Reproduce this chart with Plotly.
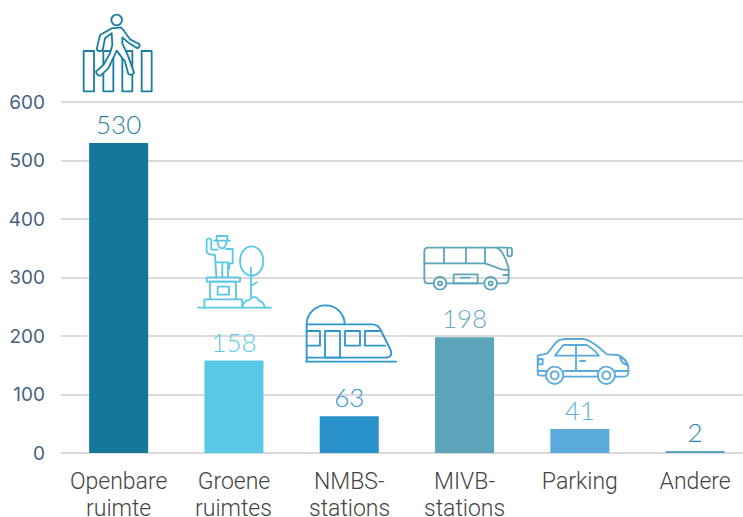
import base64
import plotly.graph_objects as go

line1 = ["Openbare", "Groene", "NMBS-", "MIVB-", "Parking", "Andere"]
line2 = ["ruimte", "ruimtes", "stations", "stations", "", ""]
values = [530, 158, 63, 198, 41, 2]
bar_colors = ["#15789b", "#58c8e6", "#2a92cb", "#5ba4ba", "#5aabdc", "#5ca5c0"]
label_colors = ["#2a82a2", "#62c8e6", "#3394cc", "#66aabf", "#62afdd", "#2a87a8"]
y_ticks = [0, 100, 200, 300, 400, 500, 600]

W, H = 743, 517
L, B = 61, 64
PX_PER_UNIT = 351 / 600
CAT_STEP = 115.3

def svg_uri(vb, color, sw, body):
    x0, y0, vw, vh = vb
    svg = (f'<svg xmlns="http://www.w3.org/2000/svg" width="{vw}" height="{vh}" viewBox="{x0} {y0} {vw} {vh}">'
           f'<g fill="none" stroke="{color}" stroke-width="{sw}" stroke-linejoin="round" stroke-linecap="round">{body}</g></svg>')
    return "data:image/svg+xml;base64," + base64.b64encode(svg.encode()).decode()

pedestrian = """
<rect x="71" y="153" width="31" height="121"/><rect x="130" y="153" width="30" height="121"/>
<rect x="187" y="153" width="30" height="121"/><rect x="245" y="153" width="30" height="121"/>
<circle cx="170" cy="60" r="16" fill="#fff"/>
<path fill="#fff" d="M155,85 L120,105 L110,148 Q118,158 128,150 L135,115 L155,100 L157,135 L150,160 L130,195 L108,215 Q112,230 122,226 L145,205 L170,152 L195,185 L205,222 Q215,228 222,218 L205,170 L187,130 L187,112 L205,128 L232,145 Q242,140 238,132 L210,118 L190,90 L183,82 Z"/>
"""
statue = """
<ellipse cx="185" cy="108" rx="35" ry="44"/>
<path d="M183,128 L183,215 M183,183 L200,172"/>
<path d="M24,248 L243,248"/>
<path d="M43,248 L43,223 L157,223 L157,248 M60,223 L60,170 L138,170 L138,223"/>
<rect x="50" y="157" width="100" height="13"/><rect x="83" y="185" width="34" height="24"/>
<path d="M72,47 L120,47 M80,47 L80,33 L112,33 L112,47 M82,47 Q84,70 96,70 Q108,70 110,47"/>
<path d="M50,45 Q57,35 64,45 L64,74 L84,74 M108,72 L128,72 L128,115 L114,115 L114,157 M50,45 L50,80 Q52,88 75,90 L79,157 M79,112 L114,112 M97,112 L97,157 M118,115 L118,130"/>
<path d="M157,243 Q165,225 178,225 Q195,205 208,228 Q220,230 225,248"/>
"""
train = """
<path d="M350,298 A57,57 0 0 1 464,298"/>
<path d="M350,410 L350,298 L545,298 Q565,298 572,315 L602,375 Q610,398 585,398 L350,398"/>
<path d="M350,410 L618,410"/>
<path d="M350,318 L390,318 L390,362 L350,362"/>
<rect x="405" y="318" width="45" height="80"/><rect x="465" y="318" width="45" height="44"/>
<path d="M586,362 L525,362 L525,318 L568,318"/>
"""
bus = """
<path d="M70,145 L52,145 Q43,145 43,132 L43,50 Q43,38 55,38 L260,38 Q280,45 296,100 L296,132 Q296,145 285,145 L262,145 M110,145 L222,145"/>
<path d="M43,85 L225,85 L275,103 L296,105 M102,38 L102,85 M168,38 L168,85 M225,38 L225,85"/>
<circle cx="90" cy="145" r="19"/><circle cx="90" cy="145" r="6"/><circle cx="242" cy="145" r="19"/><circle cx="242" cy="145" r="6"/>
<rect x="131" y="118" width="72" height="27"/><path d="M153,128 L180,128 M280,120 L296,120 M260,38 L292,38"/>
<rect x="292" y="38" width="14" height="26" rx="6"/>
"""
car = """
<path d="M408,422 L392,422 Q383,422 383,410 L383,362 L412,355 L440,320 Q450,312 470,312 L520,312 Q545,315 590,358 L625,360 Q650,370 655,395 L655,415 Q653,425 640,425 L615,425 M462,425 L562,425"/>
<path d="M435,362 L460,330 L530,330 Q555,345 567,362 Z M498,330 L498,408 M510,378 L525,378"/>
<path d="M383,408 L408,408 M462,408 L563,408 M615,408 L655,408"/>
<circle cx="434" cy="421" r="26"/><circle cx="434" cy="421" r="12"/><circle cx="589" cy="421" r="26"/><circle cx="589" cy="421" r="12"/>
<path d="M630,365 Q650,375 650,390 Q632,385 630,365"/><rect x="385" y="372" width="13" height="16"/>
"""

# Icon artwork is traced at 3x; each has a page origin and a box in that 3x space.
icons = [
    (pedestrian, "#1b7fa1", 5.5, 60, 0, (60, 30, 230, 255)),
    (statue, "#5ac8e6", 5.5, 190, 225, (15, 20, 240, 240)),
    (train, "#2e95cd", 5.5, 190, 225, (335, 235, 295, 185)),
    (bus, "#5ca5bb", 5.5, 410, 235, (35, 25, 280, 150)),
    (car, "#5aabdc", 5.5, 410, 235, (375, 305, 290, 155)),
]

plot_w, plot_h = W - L, H - B

images = []
for art, col, sw, ox, oy, vb in icons:
    px, py, pw, ph = ox + vb[0] / 3, oy + vb[1] / 3, vb[2] / 3, vb[3] / 3
    images.append(dict(
        source=svg_uri(vb, col, sw, art),
        xref="paper", yref="paper",
        x=(px - L) / plot_w, y=1 - py / plot_h,
        sizex=pw / plot_w, sizey=ph / plot_h,
        xanchor="left", yanchor="top", sizing="stretch", layer="above",
    ))

annotations = [
    dict(x=c, y=0, xref="x", yref="y", text=t, showarrow=False, yshift=-55,
         yanchor="middle", xanchor="center",
         font=dict(family="Roboto", size=23, color="#444444", weight=300))
    for c, t in zip(line1, line2) if t
]

fig = go.Figure(go.Bar(
    x=line1, y=values,
    marker=dict(color=bar_colors, line_width=0),
    width=0.512,
    text=[str(v) for v in values],
    textposition="outside",
    cliponaxis=False,
    textfont=dict(family="Lato", size=26, color=label_colors, weight=300),
))

fig.update_layout(
    width=W, height=H, autosize=False,
    margin=dict(l=L, r=0, t=0, b=B),
    plot_bgcolor="white", paper_bgcolor="white",
    showlegend=False, images=images, annotations=annotations,
    xaxis=dict(
        range=[-0.5, -0.5 + plot_w / CAT_STEP],
        tickfont=dict(family="Roboto", size=23, color="#444444", weight=300),
        showgrid=False, zeroline=False, showline=False, ticks="",
        tickangle=0, ticklabelstandoff=12,
    ),
    yaxis=dict(
        range=[0, plot_h / PX_PER_UNIT],
        tickvals=y_ticks,
        tickfont=dict(family="Inter", size=19, color="#46627f"),
        showgrid=True, gridcolor="#dadada", gridwidth=1.5,
        zeroline=True, zerolinecolor="#dadada", zerolinewidth=1.5,
        showline=False, ticks="", ticklabelstandoff=15,
    ),
)

fig.write_html("out.html", config={"displayModeBar": False},
               post_script="document.body.style.margin='0';")
